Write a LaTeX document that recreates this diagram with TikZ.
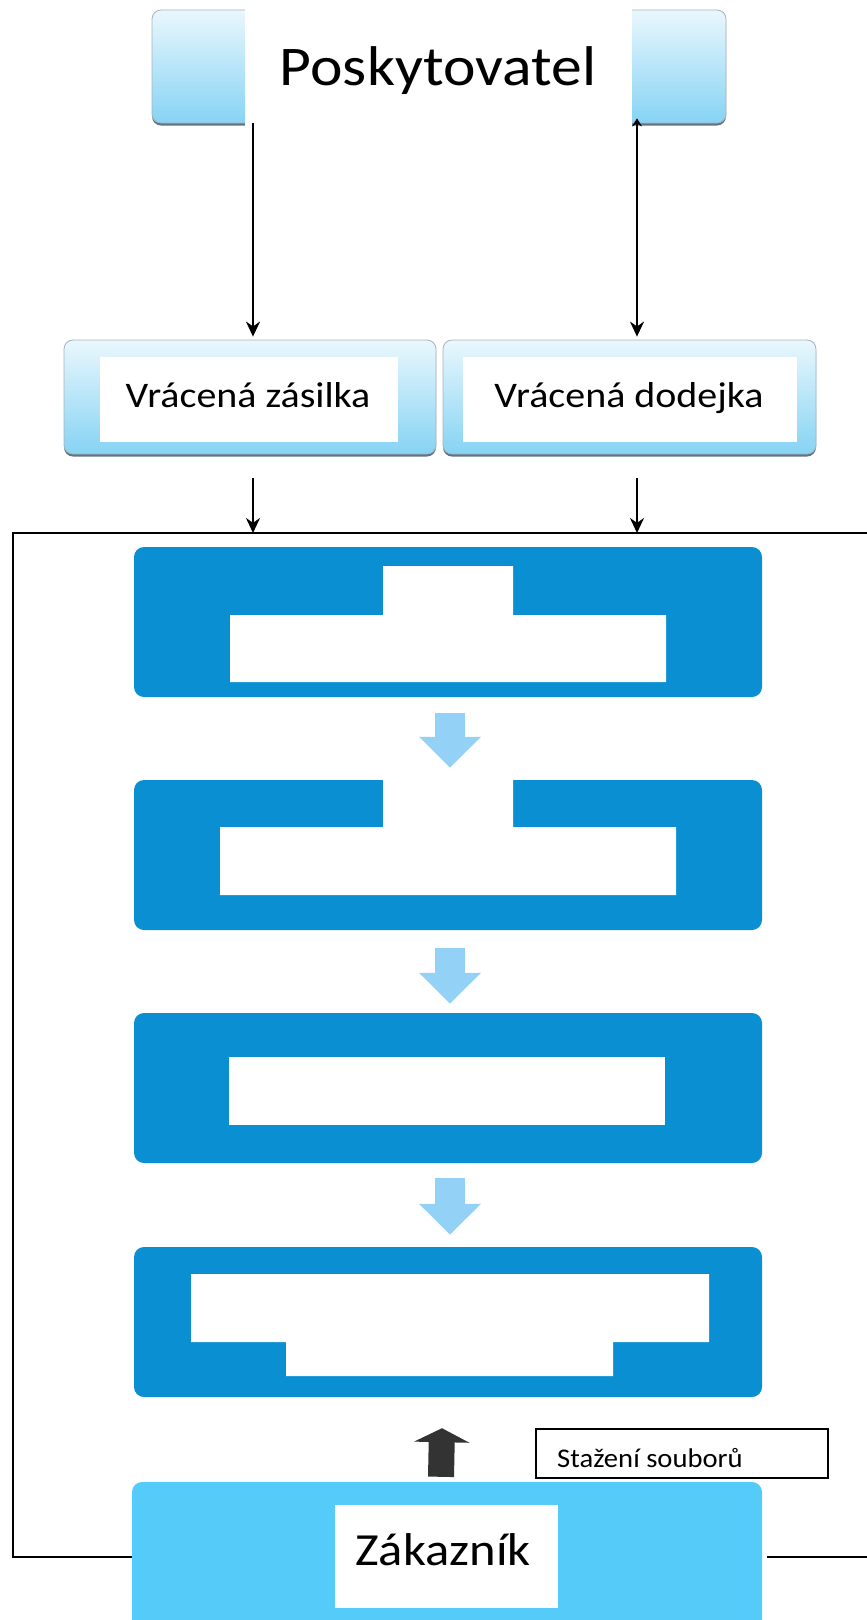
\documentclass[tikz,border=0pt]{standalone}
\usepackage{fontspec}
\setmainfont{Carlito}
\usetikzlibrary{arrows.meta,shadows}

\definecolor{stepblue}{HTML}{0A8FD3}
\definecolor{flowblue}{HTML}{93D2F6}
\definecolor{custblue}{HTML}{55CBFA}
\definecolor{paleblue}{HTML}{EAF7FD}
\definecolor{skyblue}{HTML}{86D3F4}
\definecolor{edgegray}{HTML}{5F7484}
\definecolor{darkarrow}{HTML}{333333}

\tikzset{
  gradbox/.style={rectangle, rounded corners=9pt, top color=paleblue, bottom color=skyblue,
    draw=edgegray!55, line width=0.8pt, inner sep=0pt,
    drop shadow={shadow xshift=0pt, shadow yshift=-2.5pt, fill=edgegray, opacity=1}},
  stepbox/.style={rectangle, rounded corners=10pt, fill=stepblue, inner sep=0pt,
    minimum width=628pt, minimum height=150pt},
  custbox/.style={rectangle, rounded corners=10pt, fill=custblue, inner sep=0pt},
  notebox/.style={rectangle, draw=black, line width=1.8pt, fill=white, inner sep=0pt},
  conn/.style={draw=black, line width=2.2pt},
  tip/.style={-{Stealth[length=15pt, width=14pt]}},
  framestyle/.style={draw=black, line width=2.8pt},
  flow/.style={draw=flowblue, line width=30pt, -{Triangle[length=31pt, width=60pt]}},
  uparrow/.style={draw=darkarrow, line width=26pt, -{Triangle[length=14pt, width=55pt]}},
  bigtxt/.style={font=\fontsize{56}{60}\selectfont, inner sep=0pt, xscale=1.1},
  midtxt/.style={font=\fontsize{36}{40}\selectfont, inner sep=0pt, xscale=1.11},
  custtxtstyle/.style={font=\fontsize{46}{50}\selectfont, inner sep=0pt, xscale=1.1},
  smalltxt/.style={font=\fontsize{27}{30}\selectfont, inner sep=0pt, xscale=1.06},
}

\begin{document}
\begin{tikzpicture}[x=1pt, y=-1pt]
\useasboundingbox (0,0) rectangle (867,1620);
\clip (0,0) rectangle (867,1620);

% provider box with a white label panel over its middle
\node[gradbox, minimum width=574pt, minimum height=113pt] (prov) at (439,66.5) {};
\fill[white] (245,-2) rectangle (632,128);
\node[bigtxt, anchor=base] (provtxt) at (438,85) {Poskytovatel};

% returned items
\node[gradbox, minimum width=372pt, minimum height=114pt] (ret1) at (250,397) {};
\fill[white] (100,357) rectangle (398,442);
\node[midtxt, anchor=base] (ret1txt) at (248,407) {Vrácená zásilka};

\node[gradbox, minimum width=373pt, minimum height=114pt] (ret2) at (629.5,397) {};
\fill[white] (463,357) rectangle (797,442);
\node[midtxt, anchor=base] (ret2txt) at (629,407) {Vrácená dodejka};

% vertical guides for the connectors
\coordinate (lx) at (253,0);
\coordinate (rx) at (637,0);

\draw[conn, tip] (prov.south -| lx) -- ([yshift=3pt]ret1.north -| lx);
\draw[conn, {Stealth[length=8pt, width=10pt]}-{Stealth[length=15pt, width=14pt]}]
  ([yshift=5pt]prov.south -| rx) -- ([yshift=3pt]ret2.north -| rx);

% outer frame
\coordinate (ftl) at (13,533);
\coordinate (ftr) at (867,533);
\coordinate (fbl) at (13,1557);
\coordinate (fbr) at (867,1557);

% process steps
\node[stepbox] (s1) at (448,622) {};
\fill[white] (383,566) -- (513,566) -- (513,615) -- (666,615) -- (666,682)
  -- (230,682) -- (230,615) -- (383,615) -- cycle;

\node[stepbox] (s2) at (448,855) {};
\fill[white] (383,776) -- (513,776) -- (513,827) -- (676,827) -- (676,895)
  -- (220,895) -- (220,827) -- (383,827) -- cycle;

\node[stepbox] (s3) at (448,1088) {};
\fill[white] (229,1057) rectangle (665,1125);

\node[stepbox] (s4) at (448,1322) {};
\fill[white] (191,1274) -- (709,1274) -- (709,1342) -- (613,1342) -- (613,1376)
  -- (286,1376) -- (286,1342) -- (191,1342) -- cycle;

% customer
\node[custbox, minimum width=630pt, minimum height=150pt] (cust) at (447,1557) {};
\fill[white] (335,1505) rectangle (558,1608);
\node[custtxtstyle, anchor=base] (custtxt) at (443,1565) {Zákazník};

% download note
\node[notebox, anchor=north west, minimum width=292pt, minimum height=49pt] (note) at (535,1428) {};
\node[smalltxt, anchor=base west] (notetxt) at (557,1467) {Stažení souborů};

% frame lines
\draw[framestyle] (ftr) -- (ftl) -- (fbl) -- (fbl -| cust.west);
\draw[framestyle] ([xshift=5pt]cust.east |- fbr) -- (fbr);

% returned items feed into the frame
\draw[conn, tip] ([yshift=-24pt]ret1.south -| lx) -- (ftl -| lx);
\draw[conn, tip] ([yshift=-24pt]ret2.south -| rx) -- (ftl -| rx);

% flow between the steps
\draw[flow] ([xshift=2pt, yshift=-16pt]s1.south) -- ([xshift=2pt, yshift=12pt]s2.north);
\draw[flow] ([xshift=2pt, yshift=-18pt]s2.south) -- ([xshift=2pt, yshift=9pt]s3.north);
\draw[flow] ([xshift=2pt, yshift=-15pt]s3.south) -- ([xshift=2pt, yshift=12pt]s4.north);

% upload from the customer
\draw[uparrow] ([xshift=-6pt, yshift=5pt]cust.north) -- ([xshift=-6pt, yshift=-31pt]s4.south);
\end{tikzpicture}
\end{document}
